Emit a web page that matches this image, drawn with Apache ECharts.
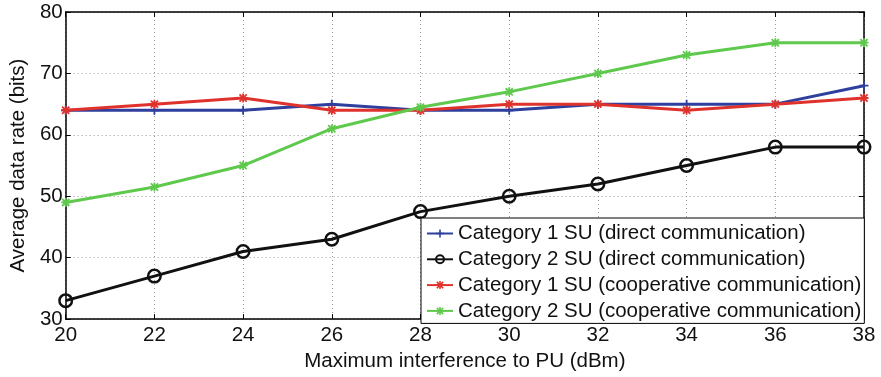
<!DOCTYPE html>
<html>
<head>
<meta charset="utf-8">
<script src="https://cdn.jsdelivr.net/npm/echarts@6/dist/echarts.min.js"></script>
<style>
  html, body { margin: 0; padding: 0; background: #fff; }
  #chart { width: 881px; height: 377px; }
</style>
</head>
<body>
<div id="chart"></div>
<script>
// Maximum interference to PU (dBm)
const interference = [20, 22, 24, 26, 28, 30, 32, 34, 36, 38];

// Average data rate (bits) per user category and communication mode
const cat1Direct = [64, 64, 64, 65, 64, 64, 65, 65, 65, 68];
const cat2Direct = [33, 37, 41, 43, 47.5, 50, 52, 55, 58, 58];
const cat1Coop   = [64, 65, 66, 64, 64, 65, 65, 64, 65, 66];
const cat2Coop   = [49, 51.5, 55, 61, 64.5, 67, 70, 73, 75, 75];

const seriesNames = [
  'Category 1 SU (direct communication)',
  'Category 2 SU (direct communication)',
  'Category 1 SU (cooperative communication)',
  'Category 2 SU (cooperative communication)'
];

const xTicks = [20, 22, 24, 26, 28, 30, 32, 34, 36, 38];
const yTicks = [30, 40, 50, 60, 70, 80];

const FONT = '"Liberation Sans", Arial, Helvetica, sans-serif';

// marker shapes
const plusPath = 'path://M8,0H12V8H20V12H12V20H8V12H0V8H8Z';
const starPath = 'path://M8,0H12V8H20V12H12V20H8V12H0V8H8Z' +
  'M3.41,0.59L19.41,16.59L16.59,19.41L0.59,3.41Z' +
  'M16.59,0.59L19.41,3.41L3.41,19.41L0.59,16.59Z';

function pairs(vals) {
  return interference.map((x, i) => [x, vals[i]]);
}

const chart = echarts.init(document.getElementById('chart'), null, { renderer: 'canvas' });

const gridLine = { show: true, lineStyle: { color: '#9a9a9a', type: [1, 3], width: 1 } };

const boxAxisX = (pos, labels) => ({
  type: 'value', position: pos,
  min: xTicks[0], max: xTicks[xTicks.length - 1], interval: xTicks[1] - xTicks[0],
  axisLine: { show: true, lineStyle: { color: '#000', width: 1.5 } },
  axisTick: { show: true, inside: true, length: 5, lineStyle: { color: '#000', width: 1 } },
  axisLabel: labels ? { show: true, color: '#111', fontSize: 20.5, fontFamily: FONT, margin: 6 } : { show: false },
  splitLine: labels ? gridLine : { show: false }
});
const boxAxisY = (pos, labels) => ({
  type: 'value', position: pos,
  min: yTicks[0], max: yTicks[yTicks.length - 1], interval: yTicks[1] - yTicks[0],
  axisLine: { show: true, lineStyle: { color: '#000', width: 1.5 } },
  axisTick: { show: true, inside: true, length: 5, lineStyle: { color: '#000', width: 1 } },
  axisLabel: labels ? { show: true, color: '#111', fontSize: 20.5, fontFamily: FONT, margin: 3 } : { show: false },
  splitLine: labels ? gridLine : { show: false }
});

const xMain = Object.assign(boxAxisX('bottom', true), {
  name: 'Maximum interference to PU (dBm)',
  nameLocation: 'middle', nameGap: 30,
  nameTextStyle: { color: '#111', fontSize: 20.5, fontFamily: FONT }
});
const yMain = Object.assign(boxAxisY('left', true), {
  name: 'Average data rate (bits)',
  nameLocation: 'middle', nameGap: 33,
  nameTextStyle: { color: '#111', fontSize: 20.5, fontFamily: FONT }
});

chart.setOption({
  animation: false,
  backgroundColor: '#fff',
  grid: { left: 56, right: 17, top: 12, bottom: 52, containLabel: false },
  xAxis: [xMain, boxAxisX('top', false)],
  yAxis: [yMain, boxAxisY('right', false)],
  legend: {
    orient: 'vertical',
    left: 421, top: 218,
    backgroundColor: '#fff',
    borderColor: '#000', borderWidth: 1,
    padding: [5, 3, 2, 5],
    itemWidth: 26, itemHeight: 10, itemGap: 4.8,
    textStyle: { color: '#111', fontSize: 20.5, fontFamily: FONT },
    data: seriesNames
  },
  series: [
    {
      name: seriesNames[0], type: 'line', data: pairs(cat1Direct),
      symbol: plusPath, symbolSize: 9,
      lineStyle: { color: '#2e3f9e', width: 3 },
      itemStyle: { color: '#2e3f9e' }, z: 3
    },
    {
      name: seriesNames[1], type: 'line', data: pairs(cat2Direct),
      symbol: 'circle', symbolSize: 12.5,
      lineStyle: { color: '#111', width: 3 },
      itemStyle: { color: 'rgba(255,255,255,0)', borderColor: '#111', borderWidth: 2.5 }, z: 3
    },
    {
      name: seriesNames[2], type: 'line', data: pairs(cat1Coop),
      symbol: starPath, symbolSize: 9,
      lineStyle: { color: '#e0322c', width: 3 },
      itemStyle: { color: '#e0322c' }, z: 4
    },
    {
      name: seriesNames[3], type: 'line', data: pairs(cat2Coop),
      symbol: starPath, symbolSize: 9,
      lineStyle: { color: '#5ec94c', width: 3 },
      itemStyle: { color: '#5ec94c' }, z: 5
    }
  ]
});
</script>
</body>
</html>
